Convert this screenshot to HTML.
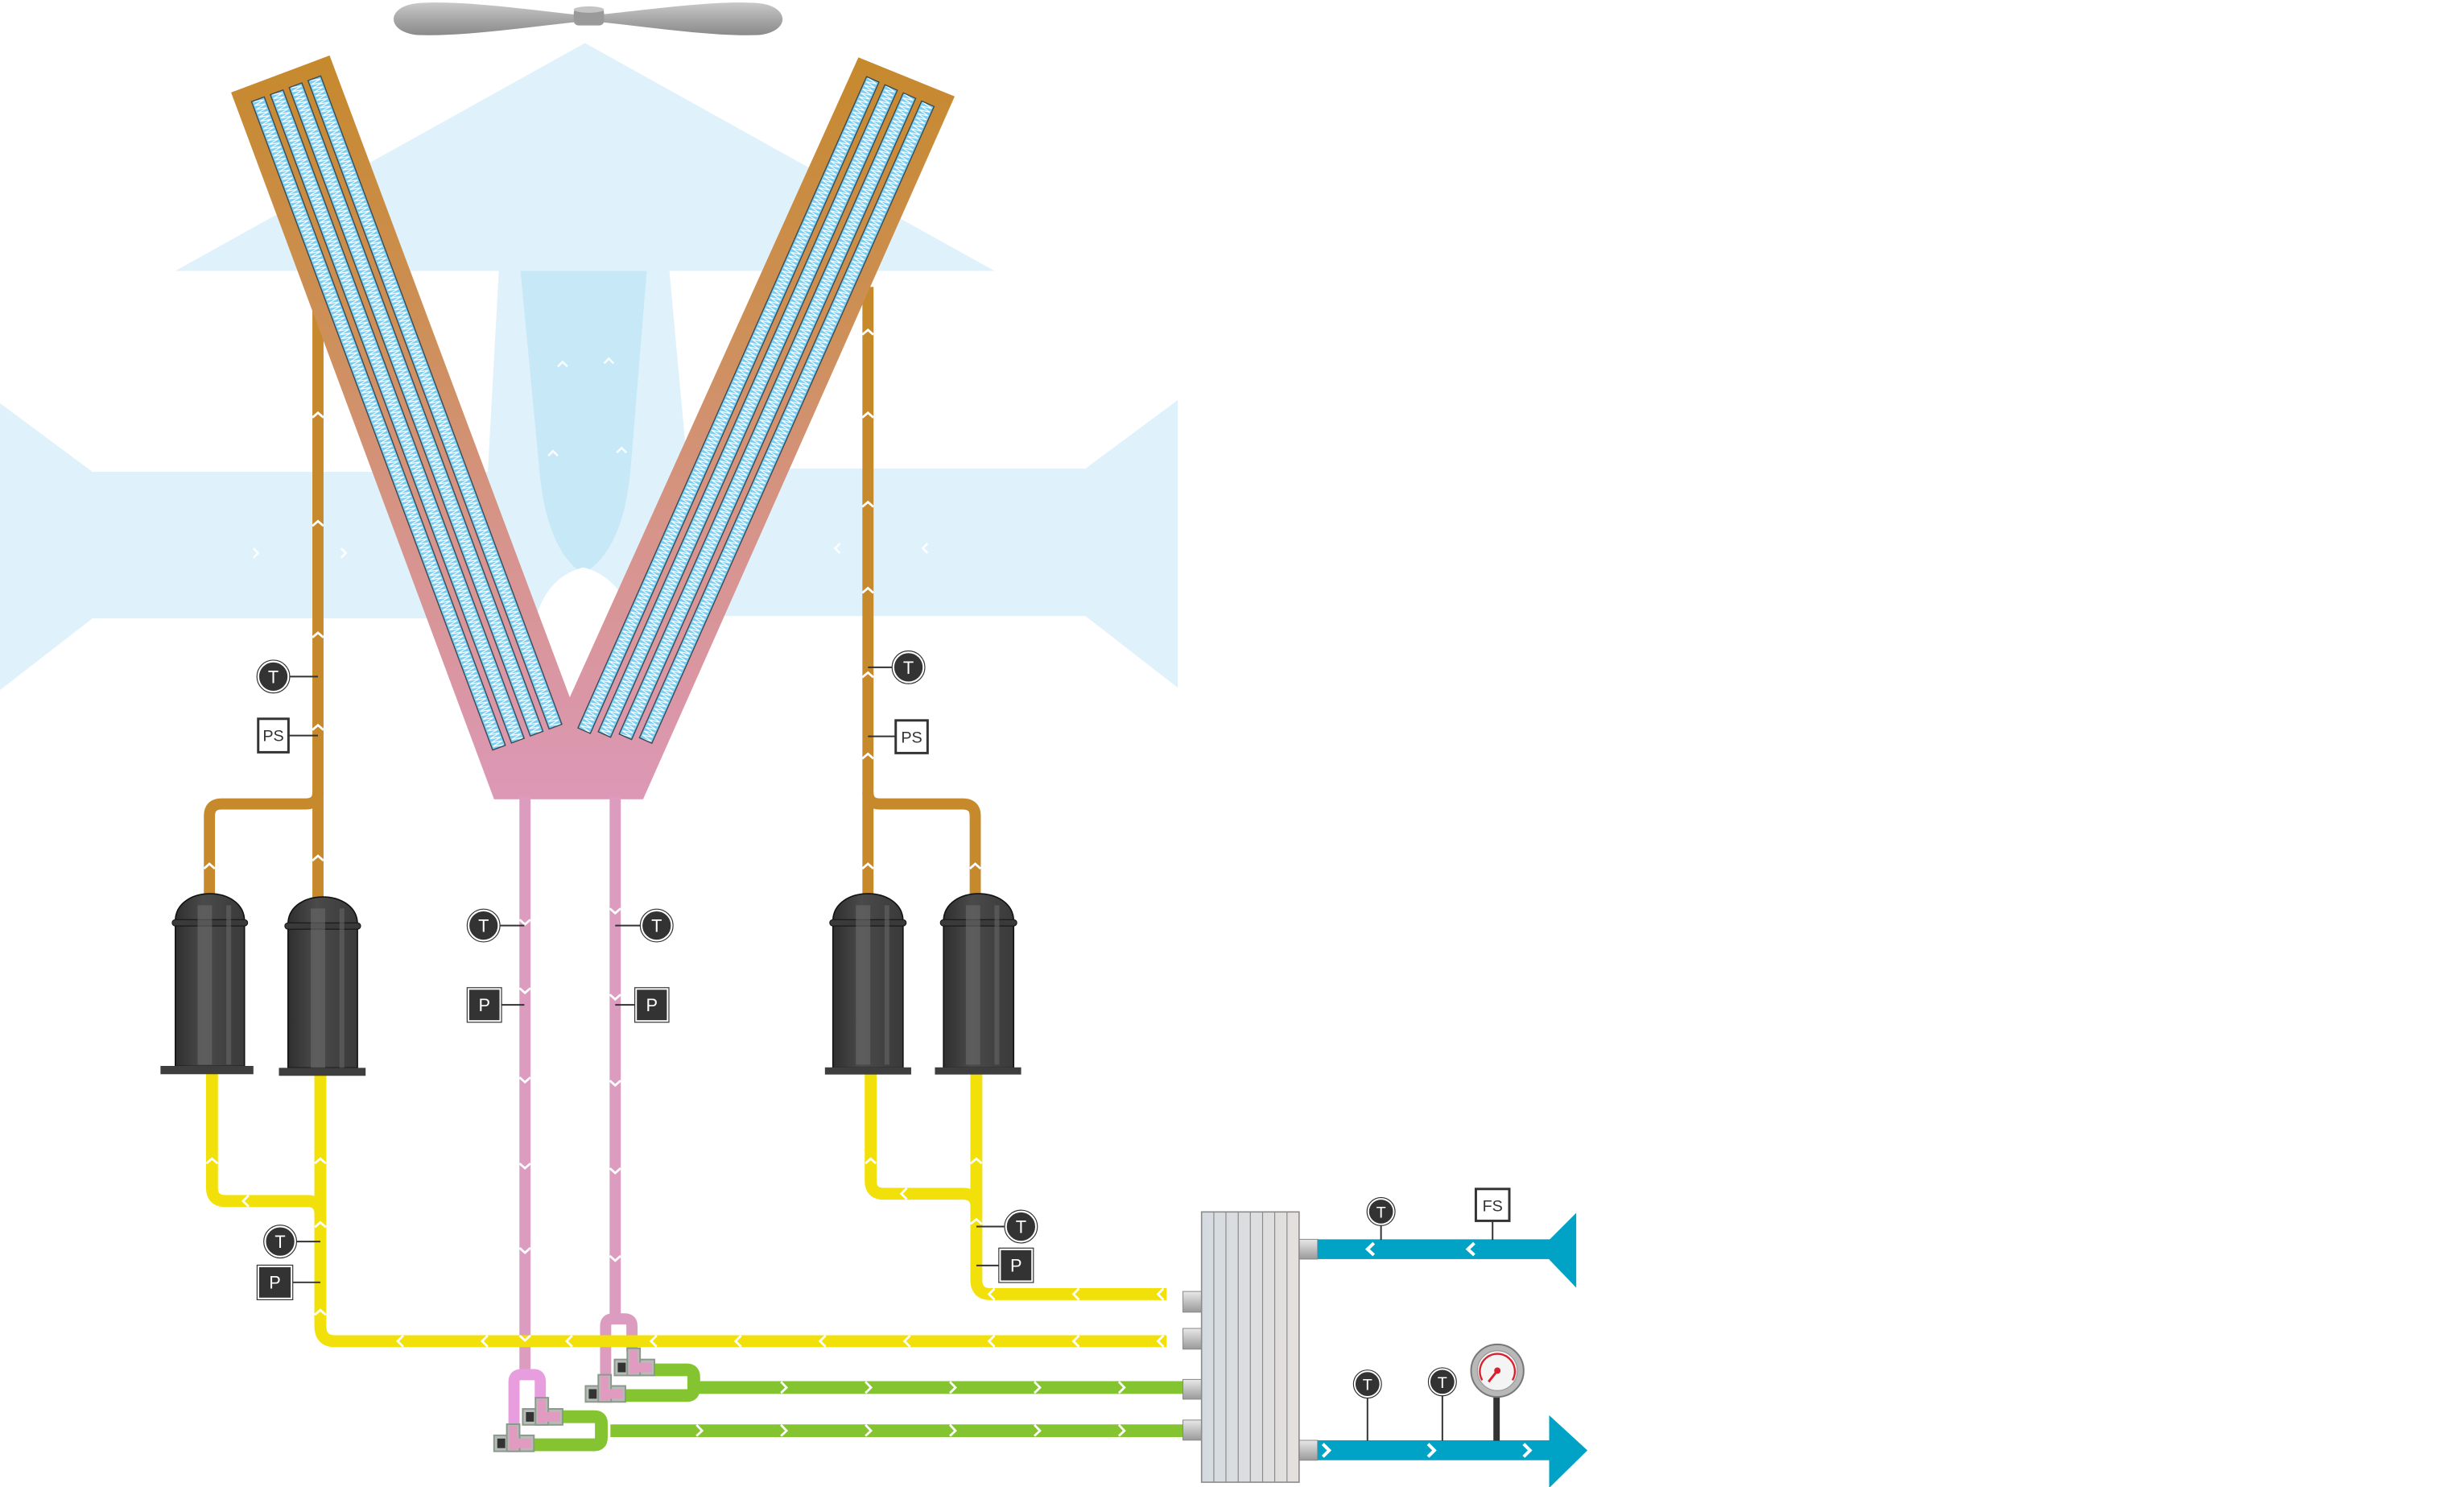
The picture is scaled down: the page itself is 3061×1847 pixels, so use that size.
<!DOCTYPE html>
<html><head><meta charset="utf-8"><style>html,body{margin:0;padding:0;background:#fff}svg{display:block}</style></head>
<body>
<svg width="3061" height="1847" viewBox="0 0 1546 933" preserveAspectRatio="none" xmlns="http://www.w3.org/2000/svg" font-family="Liberation Sans, sans-serif">
<defs>
<linearGradient id="vg" x1="0" y1="35" x2="0" y2="502" gradientUnits="userSpaceOnUse">
<stop offset="0" stop-color="#c6892c"/><stop offset="0.35" stop-color="#cd8f55"/><stop offset="0.65" stop-color="#d7948c"/><stop offset="1" stop-color="#dc98b6"/></linearGradient>
<pattern id="zz" x="-23" y="0" width="12.6" height="2.6" patternUnits="userSpaceOnUse">
<rect x="0" y="0" width="8.5" height="2.6" fill="#7ccff2"/>
<polyline points="1,0 7.5,1.3 1,2.6" fill="none" stroke="#fff" stroke-width="0.6"/></pattern>
<linearGradient id="fan" x1="0" y1="0" x2="0" y2="1"><stop offset="0" stop-color="#c9c9c9"/><stop offset="0.5" stop-color="#a8a8a8"/><stop offset="1" stop-color="#8a8a8a"/></linearGradient>
<linearGradient id="comp" x1="0" y1="0" x2="1" y2="0"><stop offset="0" stop-color="#2f2f2f"/><stop offset="0.4" stop-color="#4a4a4a"/><stop offset="1" stop-color="#3a3a3a"/></linearGradient>
<linearGradient id="port" x1="0" y1="0" x2="0" y2="1"><stop offset="0" stop-color="#e8e8e8"/><stop offset="1" stop-color="#9a9a9a"/></linearGradient>
<linearGradient id="hx" x1="0" y1="0" x2="1" y2="0"><stop offset="0" stop-color="#d4dbe0"/><stop offset="1" stop-color="#e4e0de"/></linearGradient>
</defs>

<!-- air flow -->
<g fill="#dff1fa">
<polygon points="367,27 624,170 110,170"/>
<polygon points="313,170 420,170 440,388 301,388"/>
<polygon points="0,253 58,296 372,296 372,388 58,388 0,433"/>
<polygon points="739,251 681,294 360,294 360,386.5 681,386.5 739,431.5"/>
</g>
<path d="M326.6,170 H405.8 L396,290 Q392,345 366,360 Q342,345 338,290 Z" fill="#c6e8f7"/>
<path d="M335,392 Q342,362 366,356 Q390,362 398,392 Z" fill="#fff"/>
<g fill="none" stroke="#fff" stroke-width="1.3" opacity="0.9">
<polyline points="159,344 162,347 159,350"/><polyline points="214,344 217,347 214,350"/>
<polyline points="527,341 524,344 527,347"/><polyline points="582,341 579,344 582,347"/>
<polyline points="350,230 353,227 356,230"/><polyline points="379,228 382,225 385,228"/>
<polyline points="344,286 347,283 350,286"/><polyline points="387,284 390,281 393,284"/>
</g>

<!-- fan -->
<path d="M369,10 C330,6 290,0 262,2 C242,4 242,20 262,22 C292,23 330,17 369,13 Z" fill="url(#fan)"/>
<path d="M369,10 C408,6 448,0 476,2 C496,4 496,20 476,22 C446,23 408,17 369,13 Z" fill="url(#fan)"/>
<rect x="360" y="5" width="19" height="11" rx="3" fill="#9a9a9a"/>
<ellipse cx="369.5" cy="6" rx="9.5" ry="2" fill="#c4c4c4"/>

<!-- brown pipes -->
<g fill="none" stroke="#c68a2c" stroke-width="7">
<path d="M199.5,185 V565"/>
<path d="M131.4,562 V512 Q131.4,504.4 139,504.4 H192 Q199.5,504.4 199.5,497"/>
<path d="M544.6,180 V562"/>
<path d="M611.9,562 V512 Q611.9,504.4 604,504.4 H552 Q544.6,504.4 544.6,497"/>
</g>

<!-- V coil -->
<polygon points="145,58 206.8,34.8 357.5,437.5 538.6,36 599,60.5 403.5,501.5 310,501.5" fill="url(#vg)" stroke-linejoin="round"/>
<g transform="translate(175.9,46.4) rotate(-20.4)" fill="url(#zz)" stroke="#3a4a55" stroke-width="0.7">
<rect x="-23" y="10" width="8.5" height="434"/>
<rect x="-10.4" y="10" width="8.5" height="434"/>
<rect x="2.2" y="10" width="8.5" height="434"/>
<rect x="14.8" y="10" width="8.5" height="434"/>
</g>
<g transform="translate(568.8,48.25) rotate(23.9)" stroke="#3a4a55" stroke-width="0.7">
<rect x="-23" y="10" width="8.5" height="447" fill="url(#zz)"/>
<rect x="-10.4" y="10" width="8.5" height="444" fill="url(#zz)"/>
<rect x="2.2" y="10" width="8.5" height="440" fill="url(#zz)"/>
<rect x="14.8" y="10" width="8.5" height="437" fill="url(#zz)"/>
</g>

<!-- pink pipes -->
<g fill="none" stroke="#dc9cbf" stroke-width="7">
<path d="M329.4,500 V861"/>
<path d="M386,500 V826"/>
<path d="M380,864 V832 Q380,827.5 384.5,827.5 H392 Q396.5,827.5 396.5,832 V848"/>
</g>
<path d="M322.5,896 V867 Q322.5,862.5 327,862.5 H335 Q339,862.5 339,867 V878" fill="none" stroke="#e89ddf" stroke-width="7"/>

<!-- yellow pipes -->
<g fill="none" stroke="#f2e00a" stroke-width="7.5">
<path d="M133,672 V745 Q133,753.6 141.5,753.6 H193 Q201,753.6 201,762"/>
<path d="M201,672 V832 Q201,841.5 210,841.5 H732"/>
<path d="M546.3,672 V741 Q546.3,749 554.5,749 H604 Q612.6,749 612.6,757"/>
<path d="M612.6,672 V803 Q612.6,812 621.5,812 H732"/>
</g>

<!-- green pipes -->
<g fill="none" stroke="#84c431" stroke-width="8">
<path d="M408,859.5 H431 Q435.3,859.5 435.3,864 V871 Q435.3,875.6 431,875.6 H392"/>
<path d="M438,870.6 H745"/>
<path d="M351,888.9 H373 Q377.3,888.9 377.3,893 V902 Q377.3,906.5 373,906.5 H334"/>
<path d="M383,897.7 H745"/>
</g>

<!-- valves -->
<g stroke="#8e978e" stroke-width="1">
<g transform="translate(385.6,846)"><rect x="0" y="7" width="25" height="10" fill="#b6bdb6"/><rect x="8" y="0" width="8" height="17" fill="#b6bdb6"/><rect x="9.5" y="1" width="5" height="15" fill="#e29bc0" stroke="none"/><rect x="9.5" y="9" width="14" height="6" fill="#e29bc0" stroke="none"/><rect x="2" y="9" width="5" height="6" fill="#333" stroke="none"/></g>
<g transform="translate(367.4,862.6)"><rect x="0" y="7" width="25" height="10" fill="#b6bdb6"/><rect x="8" y="0" width="8" height="17" fill="#b6bdb6"/><rect x="9.5" y="1" width="5" height="15" fill="#e29bc0" stroke="none"/><rect x="9.5" y="9" width="14" height="6" fill="#e29bc0" stroke="none"/><rect x="2" y="9" width="5" height="6" fill="#333" stroke="none"/></g>
<g transform="translate(328,877)"><rect x="0" y="7" width="25" height="10" fill="#b6bdb6"/><rect x="8" y="0" width="8" height="17" fill="#b6bdb6"/><rect x="9.5" y="1" width="5" height="15" fill="#e29bc0" stroke="none"/><rect x="9.5" y="9" width="14" height="6" fill="#e29bc0" stroke="none"/><rect x="2" y="9" width="5" height="6" fill="#333" stroke="none"/></g>
<g transform="translate(310,893.6)"><rect x="0" y="7" width="25" height="10" fill="#b6bdb6"/><rect x="8" y="0" width="8" height="17" fill="#b6bdb6"/><rect x="9.5" y="1" width="5" height="15" fill="#e29bc0" stroke="none"/><rect x="9.5" y="9" width="14" height="6" fill="#e29bc0" stroke="none"/><rect x="2" y="9" width="5" height="6" fill="#333" stroke="none"/></g>
</g>

<!-- compressors -->
<g>
<path d="M110,578 C110,555 153.4,555 153.4,578 V669 H110 Z" fill="url(#comp)" stroke="#111" stroke-width="0.8"/>
<rect x="108" y="577" width="47.4" height="4" rx="2" fill="#3a3a3a" stroke="#111" stroke-width="0.5"/>
<rect x="124" y="568" width="9" height="100" fill="#6a6a6a" opacity="0.6"/><rect x="142" y="568" width="3" height="100" fill="#666" opacity="0.6"/>
<rect x="100.7" y="668.8" width="58.3" height="5.2" fill="#3e3e3e"/>

<path d="M180.7,580 C180.7,557 224.3,557 224.3,580 V670 H180.7 Z" fill="url(#comp)" stroke="#111" stroke-width="0.8"/>
<rect x="178.7" y="579" width="47.6" height="4" rx="2" fill="#3a3a3a" stroke="#111" stroke-width="0.5"/>
<rect x="195" y="570" width="9" height="100" fill="#6a6a6a" opacity="0.6"/><rect x="213" y="570" width="3" height="100" fill="#666" opacity="0.6"/>
<rect x="175" y="670" width="54.4" height="5" fill="#3e3e3e"/>

<path d="M522.6,578 C522.6,555 566.6,555 566.6,578 V670 H522.6 Z" fill="url(#comp)" stroke="#111" stroke-width="0.8"/>
<rect x="520.6" y="577" width="48" height="4" rx="2" fill="#3a3a3a" stroke="#111" stroke-width="0.5"/>
<rect x="537" y="568" width="9" height="100" fill="#6a6a6a" opacity="0.6"/><rect x="555" y="568" width="3" height="100" fill="#666" opacity="0.6"/>
<rect x="517.6" y="669.7" width="54.1" height="4.5" fill="#3e3e3e"/>

<path d="M592,578 C592,555 636,555 636,578 V670 H592 Z" fill="url(#comp)" stroke="#111" stroke-width="0.8"/>
<rect x="590" y="577" width="48" height="4" rx="2" fill="#3a3a3a" stroke="#111" stroke-width="0.5"/>
<rect x="606" y="568" width="9" height="100" fill="#6a6a6a" opacity="0.6"/><rect x="624" y="568" width="3" height="100" fill="#666" opacity="0.6"/>
<rect x="586.6" y="669.7" width="54.1" height="4.5" fill="#3e3e3e"/>
</g>

<!-- heat exchanger -->
<rect x="742.2" y="810.3" width="11.7" height="13" fill="url(#port)" stroke="#888" stroke-width="0.5"/>
<rect x="742.2" y="833.5" width="11.7" height="13" fill="url(#port)" stroke="#888" stroke-width="0.5"/>
<rect x="742.2" y="865.5" width="11.7" height="12.4" fill="url(#port)" stroke="#888" stroke-width="0.5"/>
<rect x="742.2" y="891" width="11.7" height="12.6" fill="url(#port)" stroke="#888" stroke-width="0.5"/>
<rect x="815.1" y="777.6" width="11.6" height="12.4" fill="url(#port)" stroke="#888" stroke-width="0.5"/>
<rect x="815.1" y="903.7" width="11.6" height="12.5" fill="url(#port)" stroke="#888" stroke-width="0.5"/>
<rect x="753.9" y="760.4" width="61.2" height="169.6" fill="url(#hx)" stroke="#8a8a8a" stroke-width="0.8"/>
<g stroke="#8a8a8a" stroke-width="0.6">
<line x1="761.6" y1="760.4" x2="761.6" y2="930"/><line x1="769.2" y1="760.4" x2="769.2" y2="930"/>
<line x1="776.9" y1="760.4" x2="776.9" y2="930"/><line x1="784.5" y1="760.4" x2="784.5" y2="930"/>
<line x1="792.2" y1="760.4" x2="792.2" y2="930"/><line x1="799.8" y1="760.4" x2="799.8" y2="930"/>
<line x1="807.5" y1="760.4" x2="807.5" y2="930"/>
</g>

<!-- blue pipes -->
<rect x="826.7" y="777.6" width="150" height="12.4" fill="#00a3c6"/>
<polygon points="966,784 989,761 989,808" fill="#00a3c6"/>
<rect x="826.7" y="903.7" width="146" height="12.5" fill="#00a3c6"/>
<polygon points="972,888 996,910 972,933.6" fill="#00a3c6"/>

<!-- chevrons -->
<g fill="none" stroke="#fff" stroke-width="1.4">
<polyline points="253,838 249.5,841.5 253,845"/><polyline points="306,838 302.5,841.5 306,845"/><polyline points="359,838 355.5,841.5 359,845"/><polyline points="412,838 408.5,841.5 412,845"/><polyline points="465,838 461.5,841.5 465,845"/><polyline points="518,838 514.5,841.5 518,845"/><polyline points="571,838 567.5,841.5 571,845"/><polyline points="624,838 620.5,841.5 624,845"/><polyline points="677,838 673.5,841.5 677,845"/><polyline points="730,838 726.5,841.5 730,845"/>
<polyline points="624,808.5 620.5,812 624,815.5"/><polyline points="677,808.5 673.5,812 677,815.5"/><polyline points="730,808.5 726.5,812 730,815.5"/>
<polyline points="156,750 152.5,753.6 156,757"/><polyline points="569,745.5 565.5,749 569,752.5"/>
<polyline points="490,867 493.5,870.6 490,874"/><polyline points="543,867 546.5,870.6 543,874"/><polyline points="596,867 599.5,870.6 596,874"/><polyline points="649,867 652.5,870.6 649,874"/><polyline points="702,867 705.5,870.6 702,874"/>
<polyline points="437,894 440.5,897.7 437,901"/><polyline points="490,894 493.5,897.7 490,901"/><polyline points="543,894 546.5,897.7 543,901"/><polyline points="596,894 599.5,897.7 596,901"/><polyline points="649,894 652.5,897.7 649,901"/><polyline points="702,894 705.5,897.7 702,901"/>
<polyline points="862,780 858,783.8 862,787.5" stroke-width="2"/><polyline points="925,780 921,783.8 925,787.5" stroke-width="2"/>
<polyline points="830,906 834,910 830,914" stroke-width="2"/><polyline points="896,906 900,910 896,914" stroke-width="2"/><polyline points="956,906 960,910 956,914" stroke-width="2"/>
<polyline points="326,577 329.4,580 332.8,577"/><polyline points="326,620 329.4,623 332.8,620"/><polyline points="326,676 329.4,679 332.8,676"/><polyline points="326,730 329.4,733 332.8,730"/><polyline points="326,783 329.4,786 332.8,783"/><polyline points="326,838 329.4,841 332.8,838"/>
<polyline points="382.6,570 386,573 389.4,570"/><polyline points="382.6,624 386,627 389.4,624"/><polyline points="382.6,678 386,681 389.4,678"/><polyline points="382.6,733 386,736 389.4,733"/><polyline points="382.6,788 386,791 389.4,788"/>
<polyline points="196,262 199.5,259 203,262"/><polyline points="196,330 199.5,327 203,330"/><polyline points="196,400 199.5,397 203,400"/><polyline points="196,458 199.5,455 203,458"/><polyline points="196,540 199.5,537 203,540"/>
<polyline points="128,545 131.4,542 134.8,545"/><polyline points="608.5,545 611.9,542 615.3,545"/><polyline points="541,545 544.6,542 548,545"/>
<polyline points="541,210 544.6,207 548,210"/><polyline points="541,262 544.6,259 548,262"/><polyline points="541,318 544.6,315 548,318"/><polyline points="541,372 544.6,369 548,372"/><polyline points="541,425 544.6,422 548,425"/><polyline points="541,476 544.6,473 548,476"/>
<polyline points="129.5,730 133,727 136.5,730"/><polyline points="197.5,730 201,727 204.5,730"/><polyline points="197.5,770 201,767 204.5,770"/><polyline points="197.5,825 201,822 204.5,825"/>
<polyline points="543,730 546.3,727 549.6,730"/><polyline points="609,730 612.6,727 616,730"/><polyline points="609,768 612.6,765 616,768"/>
</g>

<!-- sensor stems -->
<g stroke="#333" stroke-width="1">
<line x1="181" y1="424.5" x2="199.5" y2="424.5"/><line x1="181" y1="461.5" x2="199.5" y2="461.5"/>
<line x1="544.6" y1="418.7" x2="561" y2="418.7"/><line x1="544.6" y1="462" x2="562" y2="462"/>
<line x1="312" y1="580.7" x2="329" y2="580.7"/><line x1="386" y1="580.7" x2="403" y2="580.7"/>
<line x1="314" y1="630.5" x2="329" y2="630.5"/><line x1="386" y1="630.5" x2="399" y2="630.5"/>
<line x1="185" y1="779" x2="201" y2="779"/><line x1="183" y1="804.6" x2="201" y2="804.6"/>
<line x1="612.6" y1="769.6" x2="631" y2="769.6"/><line x1="612.6" y1="794" x2="627.4" y2="794"/>
<line x1="866.5" y1="768" x2="866.5" y2="778"/><line x1="936.5" y1="766" x2="936.5" y2="778"/>
<line x1="858" y1="876" x2="858" y2="904"/><line x1="905" y1="875" x2="905" y2="904"/>
</g>
<rect x="937" y="874" width="4" height="30" fill="#333"/>

<!-- T sensors -->
<g font-size="11" text-anchor="middle" fill="#fff">
<g><circle cx="171.5" cy="424.5" r="9.5" fill="#333" stroke="#fff" stroke-width="1.2"/><circle cx="171.5" cy="424.5" r="10.3" fill="none" stroke="#333" stroke-width="0.6"/><text x="171.5" y="428.5">T</text></g>
<g><circle cx="570" cy="418.7" r="9.5" fill="#333" stroke="#fff" stroke-width="1.2"/><circle cx="570" cy="418.7" r="10.3" fill="none" stroke="#333" stroke-width="0.6"/><text x="570" y="422.7">T</text></g>
<g><circle cx="303.4" cy="580.7" r="9.5" fill="#333" stroke="#fff" stroke-width="1.2"/><circle cx="303.4" cy="580.7" r="10.3" fill="none" stroke="#333" stroke-width="0.6"/><text x="303.4" y="584.7">T</text></g>
<g><circle cx="412" cy="580.7" r="9.5" fill="#333" stroke="#fff" stroke-width="1.2"/><circle cx="412" cy="580.7" r="10.3" fill="none" stroke="#333" stroke-width="0.6"/><text x="412" y="584.7">T</text></g>
<g><circle cx="175.8" cy="779" r="9.5" fill="#333" stroke="#fff" stroke-width="1.2"/><circle cx="175.8" cy="779" r="10.3" fill="none" stroke="#333" stroke-width="0.6"/><text x="175.8" y="783">T</text></g>
<g><circle cx="640.6" cy="769.6" r="9.5" fill="#333" stroke="#fff" stroke-width="1.2"/><circle cx="640.6" cy="769.6" r="10.3" fill="none" stroke="#333" stroke-width="0.6"/><text x="640.6" y="773.6">T</text></g>
<g><circle cx="866.5" cy="760.2" r="8" fill="#333" stroke="#fff" stroke-width="1"/><circle cx="866.5" cy="760.2" r="8.8" fill="none" stroke="#333" stroke-width="0.6"/><text x="866.5" y="764" font-size="10">T</text></g>
<g><circle cx="858" cy="868.4" r="8" fill="#333" stroke="#fff" stroke-width="1"/><circle cx="858" cy="868.4" r="8.8" fill="none" stroke="#333" stroke-width="0.6"/><text x="858" y="872.2" font-size="10">T</text></g>
<g><circle cx="905" cy="867" r="8" fill="#333" stroke="#fff" stroke-width="1"/><circle cx="905" cy="867" r="8.8" fill="none" stroke="#333" stroke-width="0.6"/><text x="905" y="870.8" font-size="10">T</text></g>
</g>

<!-- P sensors -->
<g font-size="11" text-anchor="middle" fill="#fff">
<rect x="293.8" y="620.4" width="20.2" height="20.3" fill="#333" stroke="#fff" stroke-width="1.2"/><rect x="293.1" y="619.7" width="21.6" height="21.7" fill="none" stroke="#333" stroke-width="0.6"/><text x="303.9" y="634.5">P</text>
<rect x="399" y="620.4" width="20" height="20.3" fill="#333" stroke="#fff" stroke-width="1.2"/><rect x="398.3" y="619.7" width="21.4" height="21.7" fill="none" stroke="#333" stroke-width="0.6"/><text x="409" y="634.5">P</text>
<rect x="162" y="794.5" width="21" height="20.3" fill="#333" stroke="#fff" stroke-width="1.2"/><rect x="161.3" y="793.8" width="22.4" height="21.7" fill="none" stroke="#333" stroke-width="0.6"/><text x="172.5" y="808.6">P</text>
<rect x="627.4" y="783.8" width="20.3" height="20.2" fill="#333" stroke="#fff" stroke-width="1.2"/><rect x="626.7" y="783.1" width="21.7" height="21.6" fill="none" stroke="#333" stroke-width="0.6"/><text x="637.5" y="797.8">P</text>
</g>
<!-- PS / FS -->
<g font-size="10" text-anchor="middle" fill="#333">
<rect x="162" y="451" width="19" height="21" fill="#fff" stroke="#333" stroke-width="1.5"/><text x="171.5" y="465">PS</text>
<rect x="562" y="452" width="20" height="20.5" fill="#fff" stroke="#333" stroke-width="1.5"/><text x="572" y="466">PS</text>
<rect x="926" y="746" width="21" height="20" fill="#fff" stroke="#333" stroke-width="1.5"/><text x="936.5" y="760">FS</text>
</g>

<!-- gauge -->
<circle cx="939.5" cy="860" r="16.5" fill="#b8b8b8" stroke="#777" stroke-width="1"/>
<circle cx="939.5" cy="860" r="12.5" fill="#f4f4f4" stroke="#999" stroke-width="0.6"/>
<path d="M930,866 A11,11 0 1 1 949,866" fill="none" stroke="#d8202e" stroke-width="1.2"/>
<line x1="939.5" y1="860" x2="934" y2="867" stroke="#d8202e" stroke-width="1.5"/>
<circle cx="939.5" cy="860" r="2" fill="#d8202e"/>
</svg>
</body></html>
